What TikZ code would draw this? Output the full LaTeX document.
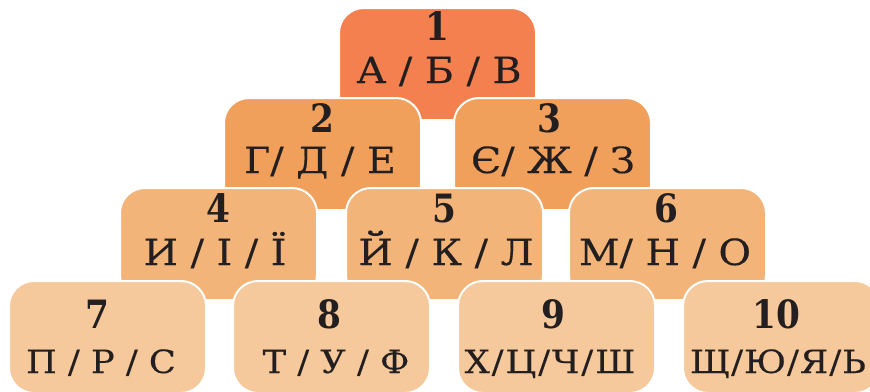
\documentclass[tikz,border=0pt]{standalone}
\usepackage{fontspec}
\setmainfont{DejaVu Serif}
\newfontfamily\letfont{DejaVu Serif}[FakeStretch=1.1,FakeBold=0.35]
\newfontfamily\numfont{DejaVu Serif Bold}[FakeStretch=0.88]
\definecolor{rowA}{RGB}{243,128,78}
\definecolor{rowB}{RGB}{240,160,90}
\definecolor{rowC}{RGB}{242,180,120}
\definecolor{rowD}{RGB}{245,201,155}
\definecolor{ink}{RGB}{35,31,32}
\begin{document}
\begin{tikzpicture}[x=1pt,y=-1pt,
  box/.style={draw=white, line width=2pt, rounded corners=25pt, minimum width=197pt, minimum height=112pt, anchor=north west, inner sep=0pt},
  num/.style={anchor=base, font=\numfont\fontsize{39}{39}\selectfont, text=ink, inner sep=0pt},
  let/.style={anchor=base, font=\letfont\fontsize{36}{36}\selectfont, text=ink, inner sep=0pt},
  letsm/.style={anchor=base, font=\letfont\fontsize{32}{32}\selectfont, text=ink, inner sep=0pt},
]
\useasboundingbox (0,0) rectangle (870,391);
\clip (0,0) rectangle (870,391);
% row 1
\node[box, fill=rowA] (b1) at (338,7) {};
% row 2
\node[box, fill=rowB] (b2) at (223,97) {};
\node[box, fill=rowB] (b3) at (453,97) {};
% row 3
\node[box, fill=rowC] (b4) at (119,187) {};
\node[box, fill=rowC] (b5) at (345,187) {};
\node[box, fill=rowC] (b6) at (568,187) {};
% row 4
\node[box, fill=rowD] (b7) at (8,280) {};
\node[box, fill=rowD] (b8) at (232,280) {};
\node[box, fill=rowD] (b9) at (457,280) {};
\node[box, fill=rowD] (b10) at (682,280) {};
% texts
\node[num] (n1) at (437,40) {1};
\node[let] (l1) at (439,83) {А / Б / В};
\node[num] (n2) at (322,132) {2};
\node[let] (l2) at (320,173) {Г/ Д / Е};
\node[num] (n3) at (549,132) {3};
\node[let] (l3) at (553,173) {Є/ Ж / З};
\node[num] (n4) at (218,222) {4};
\node[let] (l4) at (215,265) {И / І / Ї};
\node[num] (n5) at (444,222) {5};
\node[let] (l5) at (446,265) {Й / К / Л};
\node[num] (n6) at (666,222) {6};
\node[let] (l6) at (665,265) {М/ Н / О};
\node[num] (n7) at (97,328) {7};
\node[letsm] (l7) at (101,373) {П / Р / С};
\node[num] (n8) at (329,328) {8};
\node[letsm] (l8) at (336,373) {Т / У / Ф};
\node[num] (n9) at (553,328) {9};
\node[letsm] (l9) at (550,373) {Х\kern2pt/\kern2ptЦ\kern2pt/\kern2ptЧ\kern2pt/\kern2ptШ};
\node[num] (n10) at (776,328) {10};
\node[letsm] (l10) at (778,373) {Щ\kern1pt/\kern1ptЮ\kern1pt/\kern1ptЯ\kern1pt/\kern1ptЬ};
\end{tikzpicture}
\end{document}
